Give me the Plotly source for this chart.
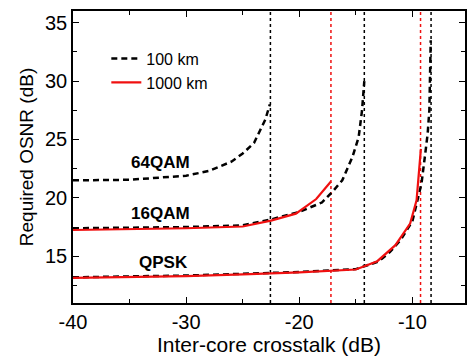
import plotly.graph_objects as go

# ---- data ----
# 64QAM, 100 km (dashed black)
q64_100_x = [-40, -35, -30, -28, -26, -25, -24, -23.5, -23, -22.6]
q64_100_y = [21.5, 21.55, 21.9, 22.3, 23.1, 23.8, 24.7, 25.7, 26.7, 28.0]

# 16QAM, 100 km (dashed black)
q16_100_x = [-40, -35, -30, -25, -22.5, -20, -18, -17, -16.2, -15.3, -14.75, -14.45, -14.25]
q16_100_y = [17.4, 17.45, 17.5, 17.65, 18.15, 18.8, 19.6, 20.6, 21.5, 23.5, 25.2, 27.5, 30.0]
# 16QAM, 1000 km (red)
q16_1000_x = [-40, -35, -30, -25, -22.5, -20.3, -18.5, -17.2]
q16_1000_y = [17.25, 17.3, 17.4, 17.55, 18.05, 18.65, 19.9, 21.4]

# QPSK, 100 km (dashed black)
qpsk_100_x = [-40, -35, -30, -25, -20, -15, -13, -12, -11, -10, -9.6, -9.2, -8.9, -8.65, -8.5, -8.42, -8.38]
qpsk_100_y = [13.2, 13.25, 13.35, 13.5, 13.65, 13.9, 14.55, 15.35, 16.45, 18.0, 19.6, 21.2, 23.5, 25.5, 27.5, 30.3, 33.5]
# QPSK, 1000 km (red)
qpsk_1000_x = [-40, -35, -30, -25, -20, -15, -13.1, -11.5, -10.2, -9.63, -9.25]
qpsk_1000_y = [13.15, 13.2, 13.3, 13.45, 13.62, 13.87, 14.58, 15.95, 17.8, 19.8, 24.2]

# limit lines
limit_black_x = [-22.55, -14.25, -8.35]
limit_red_x = [-17.2, -9.28]

labels = ["64QAM", "16QAM", "QPSK"]
label_x = [-32.3, -32.3, -32.0]
label_y = [23.05, 18.65, 14.45]

legend_names = ["100 km", "1000 km"]

X_RANGE = [-40, -5.35]
Y_RANGE = [11, 36]

FONT = "Arial, 'Liberation Sans', sans-serif"
BLACK_DASH = dict(color="black", width=2.5, dash="6px,4px")
RED = dict(color="#f01010", width=2.2)

fig = go.Figure()

# vertical dotted limit lines
for v in limit_black_x:
    fig.add_trace(go.Scatter(x=[v, v], y=Y_RANGE, mode="lines",
                             line=dict(color="black", width=1.5, dash="dot"),
                             showlegend=False, hoverinfo="skip"))
for v in limit_red_x:
    fig.add_trace(go.Scatter(x=[v, v], y=Y_RANGE, mode="lines",
                             line=dict(color="#f01010", width=1.5, dash="dot"),
                             showlegend=False, hoverinfo="skip"))

# 100 km dashed
fig.add_trace(go.Scatter(x=q64_100_x, y=q64_100_y, mode="lines", line=BLACK_DASH,
                         name=legend_names[0], showlegend=True, legendrank=1))
fig.add_trace(go.Scatter(x=q16_100_x, y=q16_100_y, mode="lines", line=BLACK_DASH,
                         name=legend_names[0], showlegend=False))
fig.add_trace(go.Scatter(x=qpsk_100_x, y=qpsk_100_y, mode="lines", line=BLACK_DASH,
                         name=legend_names[0], showlegend=False))

# 1000 km red
fig.add_trace(go.Scatter(x=q16_1000_x, y=q16_1000_y, mode="lines", line=RED,
                         name=legend_names[1], showlegend=True, legendrank=2))
fig.add_trace(go.Scatter(x=qpsk_1000_x, y=qpsk_1000_y, mode="lines", line=RED,
                         name=legend_names[1], showlegend=False))

for t, lx, ly in zip(labels, label_x, label_y):
    fig.add_annotation(x=lx, y=ly, text=f"<b>{t}</b>", showarrow=False,
                       font=dict(family=FONT, size=17, color="black"))

axis_common = dict(
    showline=True, linecolor="black", linewidth=1.5, mirror="ticks",
    ticks="inside", ticklen=6, tickwidth=1.2, tickcolor="black",
    showgrid=False, zeroline=False,
    tickfont=dict(family=FONT, size=20, color="black"),
)

fig.update_xaxes(range=X_RANGE, tickvals=[-40, -30, -20, -10],
                 ticktext=["-40", "-30", "-20", "-10"],
                 minor=dict(ticks="inside", ticklen=4, tickwidth=1.2, tickcolor="black", dtick=5),
                 title=dict(text="Inter-core crosstalk (dB)", font=dict(family=FONT, size=21, color="black"), standoff=5),
                 **axis_common)
fig.update_yaxes(range=Y_RANGE, tickvals=[15, 20, 25, 30, 35],
                 minor=dict(ticks="inside", ticklen=4, tickwidth=1.2, tickcolor="black", dtick=2.5, tick0=10),
                 title=dict(text="Required OSNR (dB)", font=dict(family=FONT, size=19, color="black"), standoff=6),
                 **axis_common)

fig.update_layout(
    width=468, height=360,
    margin=dict(l=73, r=1, t=11, b=57),
    paper_bgcolor="white", plot_bgcolor="white",
    font=dict(family=FONT, color="black"),
    legend=dict(x=0.085, y=0.895, xanchor="left", yanchor="top",
                bgcolor="rgba(0,0,0,0)", font=dict(family=FONT, size=16, color="black"),
                tracegroupgap=0, itemwidth=30),
)

fig.write_html("out.html")
